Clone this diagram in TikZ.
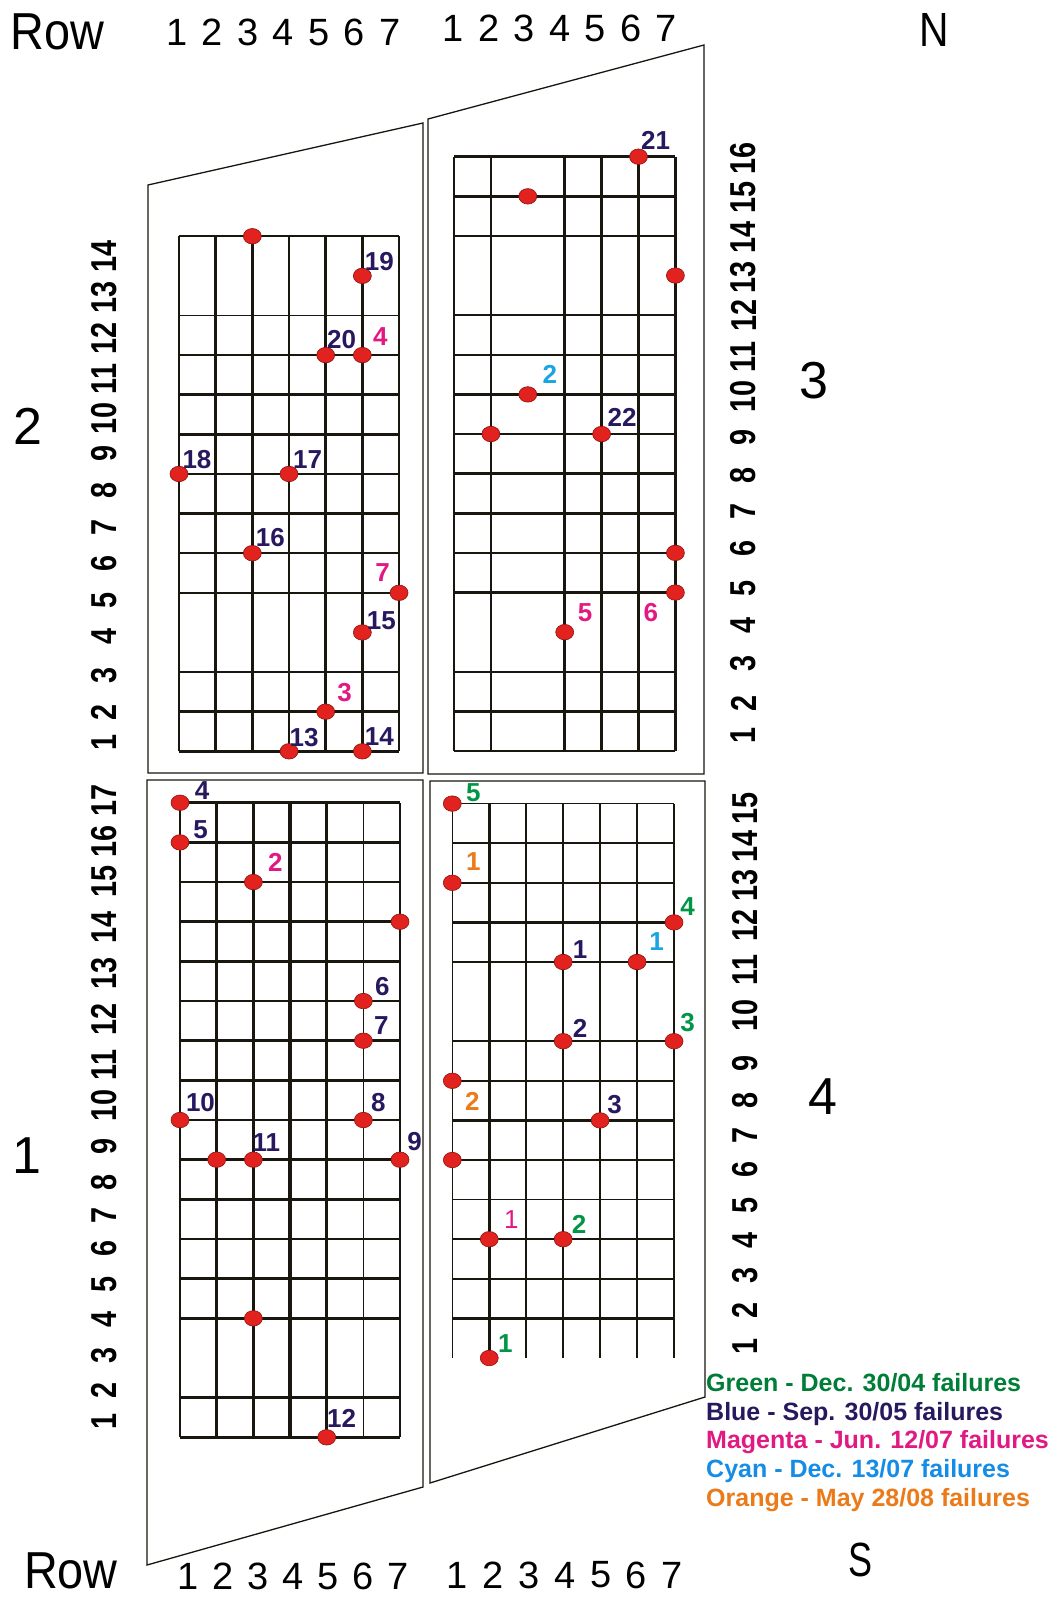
\documentclass[tikz,border=0pt]{standalone}
\usepackage{fontspec}
\usepackage{graphicx}
\setmainfont{Liberation Sans}
\usetikzlibrary{positioning,shapes.geometric}
\definecolor{gridblack}{RGB}{25,22,15}
\definecolor{dotred}{RGB}{226,34,30}
\definecolor{dotedge}{RGB}{140,20,15}
\definecolor{fnavy}{RGB}{40,25,95}
\definecolor{fmagenta}{RGB}{225,25,130}
\definecolor{fcyan}{RGB}{25,165,225}
\definecolor{fgreen}{RGB}{0,150,70}
\definecolor{fgreendk}{RGB}{0,125,55}
\definecolor{forange}{RGB}{235,122,25}

\begin{document}
\begin{tikzpicture}[x=1pt,y=-1pt,
    frame/.style={line width=1.3pt,draw=gridblack},
    gthin/.style={line width=1.6pt,draw=gridblack},
    gmid/.style={line width=2.5pt,draw=gridblack},
    gfat/.style={line width=3.3pt,draw=gridblack},
    dot/.style={ellipse,fill=dotred,draw=dotedge,line width=0.6pt,minimum width=18pt,minimum height=15.5pt,inner sep=0pt},
    lab/.style={font=\fontsize{26}{26}\selectfont\bfseries,inner sep=0pt},
    rowlab/.style={font=\fontsize{36}{36}\selectfont\bfseries,rotate=90,inner sep=0pt},
    collab/.style={font=\fontsize{38}{38}\selectfont,inner sep=0pt},
    big/.style={font=\fontsize{52}{52}\selectfont,inner sep=0pt},
    legend/.style={font=\fontsize{25}{25}\selectfont\bfseries,anchor=base west,inner sep=0pt}]
  \useasboundingbox (0,0) rectangle (1053,1597);
  \fill[white] (0,0) rectangle (1053,1597);

  % Frames of the four sections
  \draw[frame] (148,185) -- (423,123) -- (423,773) -- (148,773) -- cycle;
  \draw[frame] (428,119) -- (704,45) -- (704,774) -- (428,774) -- cycle;
  \draw[frame] (147,780) -- (423,780) -- (423,1487) -- (147,1565) -- cycle;
  \draw[frame] (430,781) -- (705,781) -- (705,1397) -- (430,1483) -- cycle;

  % Section 2 (top left)
  \begin{scope}[shift={(142.33,790.92)},x=36.67pt,y=39.62pt]
    \foreach \c in {1,...,7} \draw[gmid] (\c,1) -- (\c,14);
    \foreach \r in {1,2,3,5,6,7,8,9,10,14} \draw[gmid] (1,\r) -- (7,\r);
    \foreach \r in {11,12} \draw[gthin] (1,\r) -- (7,\r);
    \node[dot] (p2a) at (3,14) {};
    \node[dot] (p2d19) at (6,13) {};
    \node[dot] (p2d20) at (5,11) {};
    \node[dot] (p2m4) at (6,11) {};
    \node[dot] (p2d18) at (1,8) {};
    \node[dot] (p2d17) at (4,8) {};
    \node[dot] (p2d16) at (3,6) {};
    \node[dot] (p2m7) at (7,5) {};
    \node[dot] (p2d15) at (6,4) {};
    \node[dot] (p2m3) at (5,2) {};
    \node[dot] (p2d13) at (4,1) {};
    \node[dot] (p2d14) at (6,1) {};
  \end{scope}
  \node[lab,fnavy] (p2l19) at ([xshift=17pt,yshift=14pt]p2d19) {19};
  \node[lab,fnavy] (p2l20) at ([xshift=16pt,yshift=16pt]p2d20) {20};
  \node[lab,fmagenta] (p2n4) at ([xshift=18pt,yshift=19pt]p2m4) {4};
  \node[lab,fnavy] (p2l18) at ([xshift=18pt,yshift=14.5pt]p2d18) {18};
  \node[lab,fnavy] (p2l17) at ([xshift=18.5pt,yshift=14.5pt]p2d17) {17};
  \node[lab,fnavy] (p2l16) at ([xshift=18pt,yshift=16pt]p2d16) {16};
  \node[lab,fmagenta] (p2n7) at ([xshift=-16.5pt,yshift=20pt]p2m7) {7};
  \node[lab,fnavy] (p2l15) at ([xshift=19pt,yshift=12pt]p2d15) {15};
  \node[lab,fmagenta] (p2n3) at ([xshift=19pt,yshift=19.5pt]p2m3) {3};
  \node[lab,fnavy] (p2l13) at ([xshift=15pt,yshift=14pt]p2d13) {13};
  \node[lab,fnavy] (p2l14) at ([xshift=17pt,yshift=15pt]p2d14) {14};

  % Section 3 (top right)
  \begin{scope}[shift={(417.1,790.62)},x=36.9pt,y=39.62pt]
    \foreach \c in {1,4,6,7} \draw[gmid] (\c,1) -- (\c,16);
    \draw[gthin] (2,1) -- (2,16);
    \draw[gfat] (5,1) -- (5,16);
    \foreach \r in {1,2,3,5,6,7,8,9,10,14,15,16} \draw[gmid] (1,\r) -- (7,\r);
    \foreach \r in {11,12} \draw[gthin] (1,\r) -- (7,\r);
    \node[dot] (p3d21) at (6,16) {};
    \node[dot] (p3a) at (3,15) {};
    \node[dot] (p3b) at (7,13) {};
    \node[dot] (p3c2) at (3,10) {};
    \node[dot] (p3c) at (2,9) {};
    \node[dot] (p3d22) at (5,9) {};
    \node[dot] (p3d) at (7,6) {};
    \node[dot] (p3m6) at (7,5) {};
    \node[dot] (p3m5) at (4,4) {};
  \end{scope}
  \node[lab,fnavy] (p3l21) at ([xshift=17pt,yshift=16pt]p3d21) {21};
  \node[lab,fcyan] (p3n2) at ([xshift=22pt,yshift=20pt]p3c2) {2};
  \node[lab,fnavy] (p3l22) at ([xshift=20.5pt,yshift=16.5pt]p3d22) {22};
  \node[lab,fmagenta] (p3n6) at ([xshift=-24.5pt,yshift=-20pt]p3m6) {6};
  \node[lab,fmagenta] (p3n5) at ([xshift=20.5pt,yshift=19pt]p3m5) {5};

  % Section 1 (bottom left)
  \begin{scope}[shift={(143.33,1476.96)},x=36.67pt,y=39.66pt]
    \foreach \c in {2,3,5} \draw[gmid] (\c,1) -- (\c,17);
    \foreach \c in {1,6,7} \draw[gthin] (\c,1) -- (\c,17);
    \draw[gfat] (4,1) -- (4,17);
    \foreach \r in {1,2,4,6,7,8,9,12,15,16,17} \draw[gmid] (1,\r) -- (7,\r);
    \foreach \r in {5,10,11,13,14} \draw[gfat] (1,\r) -- (7,\r);
    \node[dot] (p1d4) at (1,17) {};
    \node[dot] (p1d5) at (1,16) {};
    \node[dot] (p1m2) at (3,15) {};
    \node[dot] (p1a) at (7,14) {};
    \node[dot] (p1d6) at (6,12) {};
    \node[dot] (p1d7) at (6,11) {};
    \node[dot] (p1d10) at (1,9) {};
    \node[dot] (p1d8) at (6,9) {};
    \node[dot] (p1b) at (2,8) {};
    \node[dot] (p1d11) at (3,8) {};
    \node[dot] (p1d9) at (7,8) {};
    \node[dot] (p1c) at (3,4) {};
    \node[dot] (p1d12) at (5,1) {};
  \end{scope}
  \node[lab,fnavy] (p1l4) at ([xshift=22pt,yshift=11.7pt]p1d4) {4};
  \node[lab,fnavy] (p1l5) at ([xshift=20.5pt,yshift=13pt]p1d5) {5};
  \node[lab,fmagenta] (p1n2) at ([xshift=22pt,yshift=19.5pt]p1m2) {2};
  \node[lab,fnavy] (p1l6) at ([xshift=19pt,yshift=15pt]p1d6) {6};
  \node[lab,fnavy] (p1l7) at ([xshift=18pt,yshift=15pt]p1d7) {7};
  \node[lab,fnavy] (p1l10) at ([xshift=20.5pt,yshift=17.5pt]p1d10) {10};
  \node[lab,fnavy] (p1l8) at ([xshift=15pt,yshift=17.5pt]p1d8) {8};
  \node[lab,fnavy] (p1l11) at ([xshift=13pt,yshift=17pt]p1d11) {11};
  \node[lab,fnavy] (p1l9) at ([xshift=14.5pt,yshift=18pt]p1d9) {9};
  \node[lab,fnavy] (p1l12) at ([xshift=15pt,yshift=19pt]p1d12) {12};

  % Section 4 (bottom right)
  \begin{scope}[shift={(415.35,1397.6)},x=36.95pt,y=39.6pt]
    \foreach \c in {3,4,6,7} \draw[gmid] (\c,1) -- (\c,15);
    \foreach \c in {1,5} \draw[gthin] (\c,1) -- (\c,15);
    \draw[gfat] (2,1) -- (2,15);
    \foreach \r in {2,3,6,7,8,9,11,12,13,14} \draw[gmid] (1,\r) -- (7,\r);
    \foreach \r in {4,5,15} \draw[gthin] (1,\r) -- (7,\r);
    \node[dot] (p4g5) at (1,15) {};
    \node[dot] (p4o1) at (1,13) {};
    \node[dot] (p4g4) at (7,12) {};
    \node[dot] (p4d1) at (4,11) {};
    \node[dot] (p4c1) at (6,11) {};
    \node[dot] (p4d2) at (4,9) {};
    \node[dot] (p4g3) at (7,9) {};
    \node[dot] (p4o2) at (1,8) {};
    \node[dot] (p4d3) at (5,7) {};
    \node[dot] (p4a) at (1,6) {};
    \node[dot] (p4m1) at (2,4) {};
    \node[dot] (p4g2) at (4,4) {};
    \node[dot] (p4g1) at (2,1) {};
  \end{scope}
  \node[lab,fgreen] (p4n5) at ([xshift=21pt,yshift=10.6pt]p4g5) {5};
  \node[lab,forange] (p4q1) at ([xshift=21pt,yshift=21pt]p4o1) {1};
  \node[lab,fgreen] (p4n4) at ([xshift=13.5pt,yshift=16pt]p4g4) {4};
  \node[lab,fnavy] (p4l1) at ([xshift=17pt,yshift=12pt]p4d1) {1};
  \node[lab,fcyan] (p4k1) at ([xshift=19.5pt,yshift=20pt]p4c1) {1};
  \node[lab,fnavy] (p4l2) at ([xshift=17pt,yshift=13pt]p4d2) {2};
  \node[lab,fgreen] (p4n3) at ([xshift=13.5pt,yshift=19pt]p4g3) {3};
  \node[lab,forange] (p4q2) at ([xshift=20pt,yshift=-21pt]p4o2) {2};
  \node[lab,fnavy] (p4l3) at ([xshift=14.5pt,yshift=16pt]p4d3) {3};
  \node[lab,fmagenta,font=\fontsize{26}{26}\selectfont] (p4r1) at ([xshift=22pt,yshift=20pt]p4m1) {1};
  \node[lab,fgreen] (p4n2) at ([xshift=16pt,yshift=15pt]p4g2) {2};
  \node[lab,fgreen] (p4n1) at ([xshift=16pt,yshift=14pt]p4g1) {1};

  % Row numbers along the sides
  \foreach \n/\y in {1/742.5,2/712,3/675.7,4/636,5/600,6/563.7,7/527.6,8/490,9/453,
      10/418.5,11/379,12/338.8,13/297.3,14/256.8}
    \node[rowlab] (rl2\n) at (104,\y) {\scalebox{0.8}[1]{\n}};
  \foreach \n/\y in {1/1421,2/1390,3/1355,4/1319,5/1284,6/1248,7/1215,8/1182,9/1146,
      10/1105,11/1065,12/1019,13/973,14/927,15/881,16/841,17/800}
    \node[rowlab] (rl1\n) at (104,\y) {\scalebox{0.8}[1]{\n}};
  \foreach \n/\y in {1/735,2/703,3/663.5,4/625,5/588,6/548.5,7/511.5,8/475,9/437,
      10/396.5,11/357,12/315.5,13/277,14/237,15/197,16/158}
    \node[rowlab] (rl3\n) at (743.5,\y) {\scalebox{0.8}[1]{\n}};
  \foreach \n/\y in {1/1346,2/1310.5,3/1275.5,4/1240,5/1205,6/1169.5,7/1135,8/1100,
      9/1063,10/1015,11/970,12/925,13/885,14/846,15/808}
    \node[rowlab] (rl4\n) at (745,\y) {\scalebox{0.8}[1]{\n}};

  % Column numbers top and bottom
  \foreach \c in {1,...,7} {
    \node[collab] (ct1\c) at ({177+35.5*(\c-1)},32.5) {\c};
    \node[collab] (ct2\c) at ({453.5+35.5*(\c-1)},28.5) {\c};
    \node[collab] (cb1\c) at ({188+35*(\c-1)},1576.5) {\c};
    \node[collab] (cb2\c) at ({457.5+35.8*(\c-1)},1575) {\c};
  }

  % Headings and section numbers
  \node[big] (rowtop) at (57.5,31.5) {\scalebox{0.9}[1]{Row}};
  \node[big] (rowbot) at (71,1571) {\scalebox{0.9}[1]{Row}};
  \node[big,font=\fontsize{48}{48}\selectfont] (north) at (934,30) {\scalebox{0.85}[1]{N}};
  \node[big,font=\fontsize{48}{48}\selectfont] (south) at (860,1560) {\scalebox{0.75}[1]{S}};
  \node[big] (sec2) at (28,426) {2};
  \node[big] (sec3) at (814,381) {3};
  \node[big] (sec1) at (27,1156) {1};
  \node[big] (sec4) at (823,1097) {4};

  % Legend
  \node[legend,fgreendk] (leg1) at (706,1391.5) {Green - Dec. 30/04 failures};
  \node[legend,fnavy] (leg2) at (706,1420) {Blue - Sep. 30/05 failures};
  \node[legend,fmagenta] (leg3) at (706,1448.5) {Magenta - Jun. 12/07 failures};
  \node[legend,fcyan!85!blue] (leg4) at (706,1477.5) {Cyan - Dec. 13/07 failures};
  \node[legend,forange] (leg5) at (706,1506.5) {Orange - May 28/08 failures};
\end{tikzpicture}
\end{document}
